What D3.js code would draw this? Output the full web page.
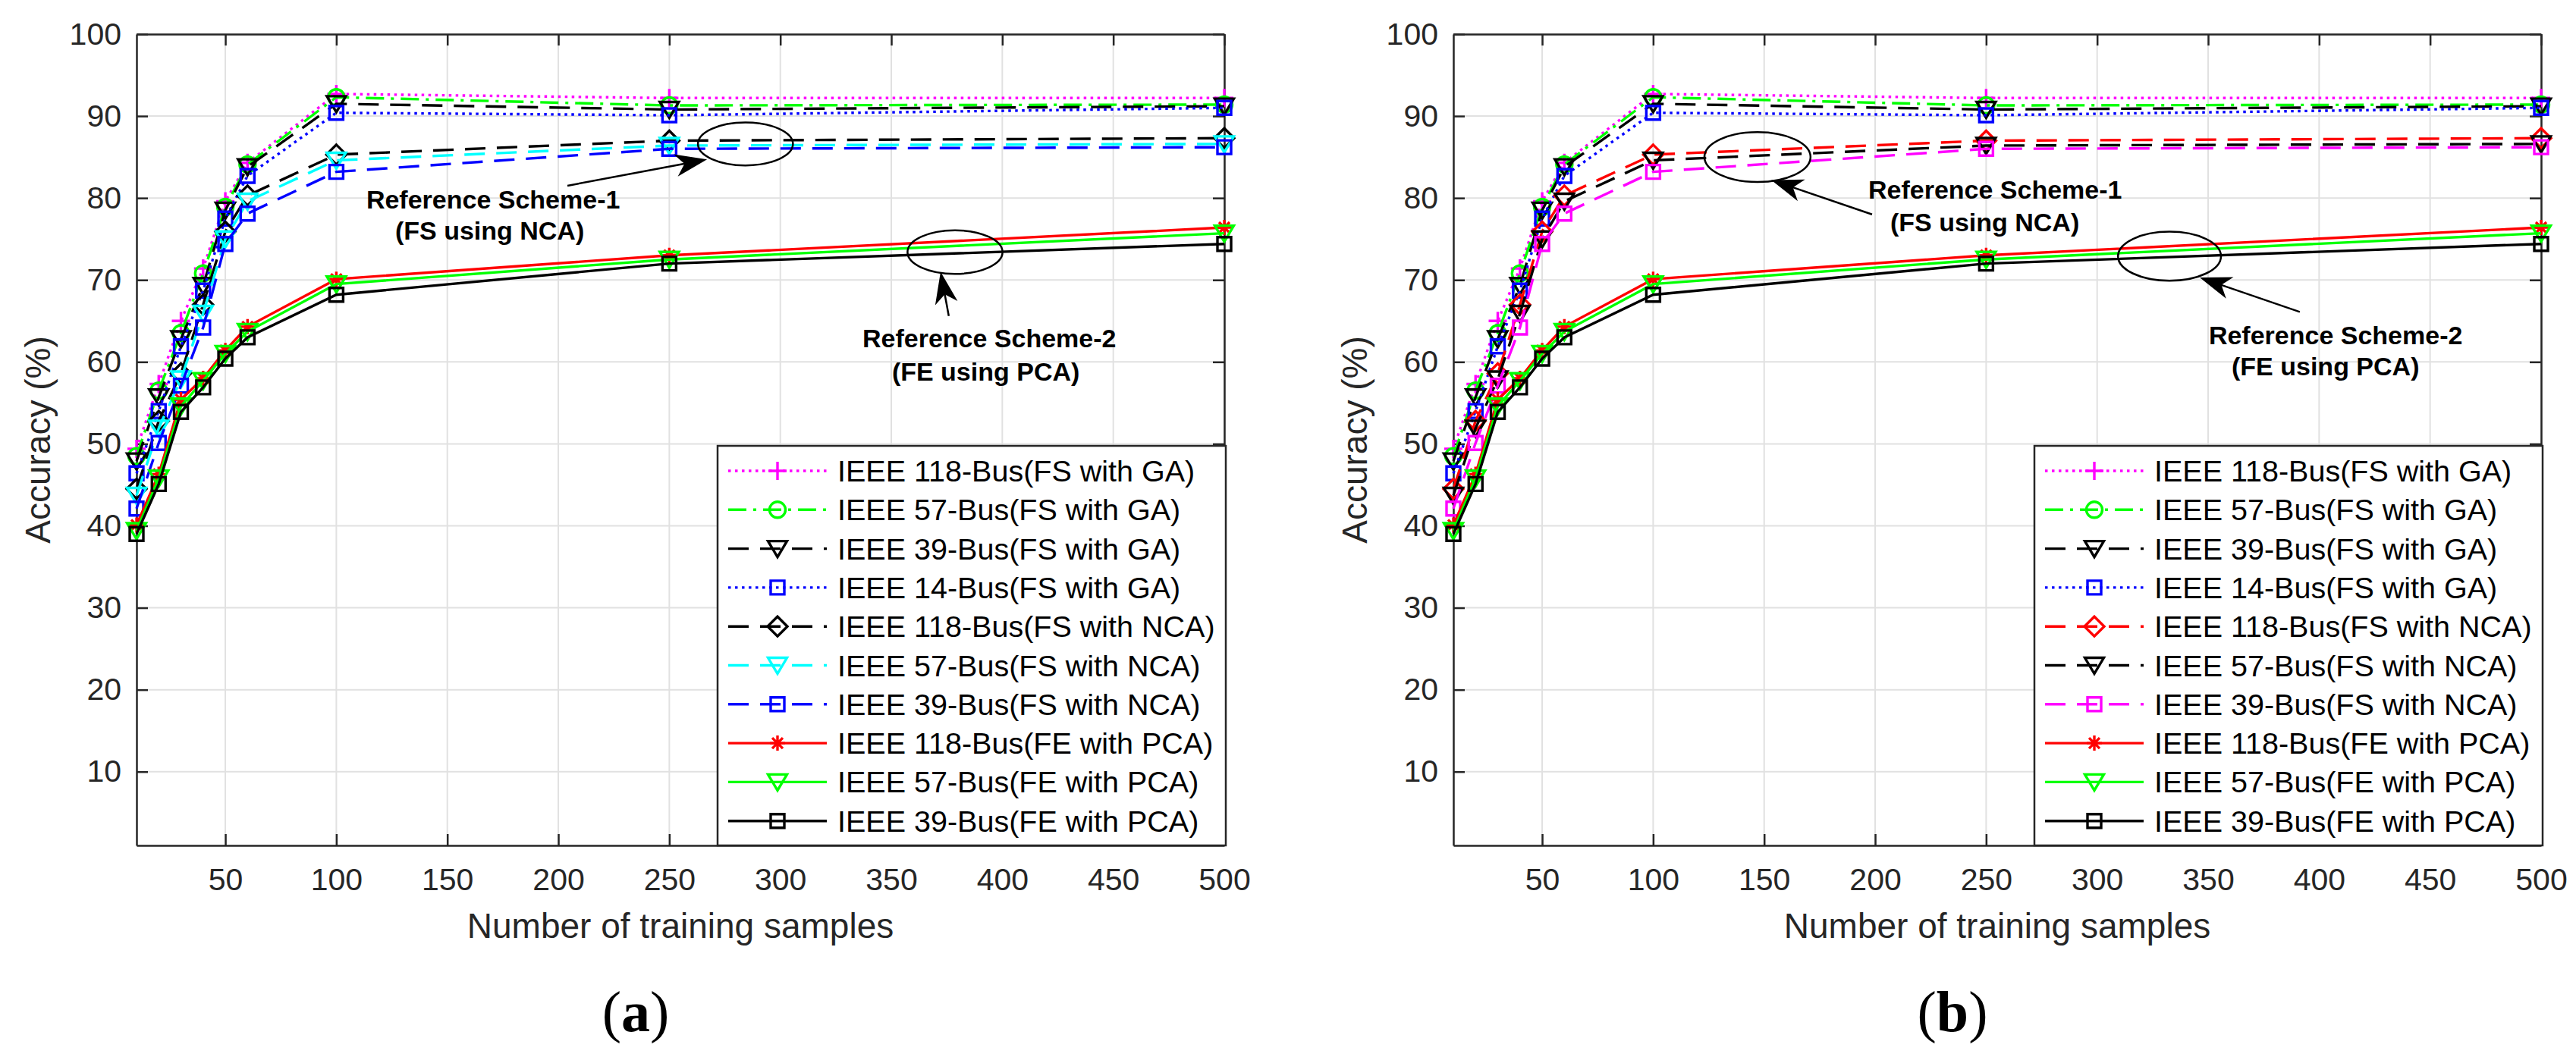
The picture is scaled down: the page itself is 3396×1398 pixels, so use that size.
<!DOCTYPE html>
<html>
<head>
<meta charset="utf-8">
<script src="https://cdn.jsdelivr.net/npm/d3@7"></script>
<style>
  body { margin: 0; background: #fff; }
  svg { display: block; }
</style>
</head>
<body>
<svg width="3396" height="1398"></svg>
<script>
/* global d3 */

// Values (accuracy %, one entry per training-sample count)
const samples = [10, 20, 30, 40, 50, 60, 100, 250, 500];
const ga118 = [49.4, 57.3, 65.0, 71.4, 79.6, 84.3, 92.7, 92.2, 92.2];
const ga57 = [48.5, 56.5, 63.5, 70.8, 78.9, 84.1, 92.3, 91.3, 91.4];
const ga39 = [47.9, 55.7, 62.8, 69.3, 78.5, 83.8, 91.5, 90.8, 91.2];
const ga14 = [46.4, 54.0, 61.9, 68.7, 77.5, 82.7, 90.4, 90.1, 91.0];
const nca118 = [44.5, 52.8, 58.6, 67.0, 75.9, 80.3, 85.3, 87.0, 87.3];
const nca57 = [43.7, 51.9, 57.9, 65.9, 75.0, 79.6, 84.6, 86.4, 86.6];
const nca39 = [42.1, 50.1, 57.1, 64.2, 74.4, 78.1, 83.2, 86.0, 86.2];
const pca118 = [40.1, 46.3, 55.4, 58.0, 61.4, 64.3, 70.1, 73.0, 76.4];
const pca57 = [39.4, 45.8, 54.6, 57.7, 61.0, 63.7, 69.5, 72.5, 75.7];
const pca39 = [39.0, 45.1, 53.9, 56.9, 60.4, 63.0, 68.2, 72.0, 74.4];

const seriesLabels = [
  'IEEE 118-Bus(FS with GA)', 'IEEE 57-Bus(FS with GA)', 'IEEE 39-Bus(FS with GA)',
  'IEEE 14-Bus(FS with GA)', 'IEEE 118-Bus(FS with NCA)', 'IEEE 57-Bus(FS with NCA)',
  'IEEE 39-Bus(FS with NCA)', 'IEEE 118-Bus(FE with PCA)', 'IEEE 57-Bus(FE with PCA)',
  'IEEE 39-Bus(FE with PCA)',
];
const seriesValues = [ga118, ga57, ga39, ga14, nca118, nca57, nca39, pca118, pca57, pca39];

const xTicks = [50, 100, 150, 200, 250, 300, 350, 400, 450, 500];
const yTicks = [10, 20, 30, 40, 50, 60, 70, 80, 90, 100];
const panelLetters = ['a', 'b'];
const schemeLines = [['Reference Scheme-1', '(FS using NCA)'], ['Reference Scheme-2', '(FE using PCA)']];

// Line styles
const DOT = '3.5,5.5';
const DASH = '27,15';
const DASHDOT = '24,9,4,9';
const SOLID = null;

const stylesA = [
  { color: '#ff00ff', dash: DOT, marker: 'plus' },
  { color: '#00ff00', dash: DASHDOT, marker: 'circle' },
  { color: '#000000', dash: DASH, marker: 'tri' },
  { color: '#0000ff', dash: DOT, marker: 'square' },
  { color: '#000000', dash: DASH, marker: 'diamond' },
  { color: '#00ffff', dash: DASH, marker: 'tri' },
  { color: '#0000ff', dash: DASH, marker: 'square' },
  { color: '#ff0000', dash: SOLID, marker: 'star' },
  { color: '#00ff00', dash: SOLID, marker: 'tri' },
  { color: '#000000', dash: SOLID, marker: 'square' },
];
const stylesB = stylesA.map((s) => ({ ...s }));
stylesB[4] = { color: '#ff0000', dash: DASH, marker: 'diamond' };
stylesB[5] = { color: '#000000', dash: DASH, marker: 'tri' };
stylesB[6] = { color: '#ff00ff', dash: DASH, marker: 'square' };

// Annotation placement in data units (x samples, y accuracy) for each panel
const notesA = {
  ellipses: [[284.3, 86.6, 21.4, 2.62], [378.7, 73.4, 21.4, 2.66]],
  arrows: [[204.1, 81.5, 267.0, 84.7], [375.9, 65.6, 372.2, 71.0]],
  texts: [[[113.5, 78.7], [126.5, 74.9]], [[337.0, 61.8], [350.3, 57.7]]],
};
const notesB = {
  ellipses: [[147.0, 85.0, 23.9, 3.05], [332.6, 72.9, 23.2, 2.99]],
  arrows: [[198.6, 78.0, 153.2, 82.2], [391.3, 66.1, 346.2, 70.3]],
  texts: [[[196.9, 79.9], [206.8, 75.9]], [[350.3, 62.2], [360.6, 58.35]]],
};

// Layout
const svg = d3.select('svg');
const font = "'Liberation Sans', Arial, Helvetica, sans-serif";
const axisColor = '#262626';
const lineW = 3.4;
const plotLeft = 180;
const plotRight = 1614;
const plotTop = 45;
const plotBottom = 1115;
const panelShift = [0, 1736];

svg.append('rect').attr('width', 3396).attr('height', 1398).attr('fill', '#fff');

function markerPath(type) {
  switch (type) {
    case 'plus': return 'M-12,0H12M0,-12V12';
    case 'tri': return 'M-12.5,-10L12.5,-10L0,11Z';
    case 'square': return 'M-9,-9H9V9H-9Z';
    case 'diamond': return 'M0,-13L13,0L0,13L-13,0Z';
    case 'star': return 'M-10,0H10M0,-10V10M-7,-7L7,7M-7,7L7,-7';
    default: return null;
  }
}

function drawMarker(g, type, cx, cy, color) {
  if (type === 'circle') {
    g.append('circle')
      .attr('cx', cx).attr('cy', cy).attr('r', 10.5)
      .attr('fill', 'none').attr('stroke', color).attr('stroke-width', lineW);
  } else {
    g.append('path')
      .attr('d', markerPath(type))
      .attr('transform', `translate(${cx},${cy})`)
      .attr('fill', 'none').attr('stroke', color).attr('stroke-width', lineW)
      .attr('stroke-linejoin', 'miter');
  }
}

function drawPanel(p) {
  const shift = panelShift[p];
  const styles = p === 0 ? stylesA : stylesB;
  const notes = p === 0 ? notesA : notesB;
  const g = svg.append('g').attr('transform', `translate(${shift},0)`);

  const x = d3.scaleLinear().domain([10, 500]).range([plotLeft, plotRight]);
  const y = d3.scaleLinear().domain([1, 100]).range([plotBottom, plotTop]);

  // grid
  const grid = g.append('g').attr('stroke', '#e1e1e1').attr('stroke-width', 2);
  xTicks.forEach((t) => {
    grid.append('line').attr('x1', x(t)).attr('x2', x(t)).attr('y1', plotTop).attr('y2', plotBottom);
  });
  yTicks.forEach((t) => {
    grid.append('line').attr('x1', plotLeft).attr('x2', plotRight).attr('y1', y(t)).attr('y2', y(t));
  });

  // axes (box with inward ticks)
  const styleAxis = (sel) => {
    sel.select('.domain').attr('stroke', axisColor).attr('stroke-width', 2.5);
    sel.selectAll('.tick line').attr('stroke', axisColor).attr('stroke-width', 2.5);
    sel.selectAll('.tick text').attr('fill', axisColor).style('font-family', font).style('font-size', '41px');
  };
  g.append('g').attr('transform', `translate(0,${plotBottom})`)
    .call(d3.axisBottom(x).tickValues(xTicks).tickSizeInner(-15).tickSizeOuter(0).tickPadding(30))
    .call(styleAxis);
  g.append('g').attr('transform', `translate(${plotLeft},0)`)
    .call(d3.axisLeft(y).tickValues(yTicks).tickSizeInner(-15).tickSizeOuter(0).tickPadding(20))
    .call(styleAxis);
  g.append('g').attr('transform', `translate(0,${plotTop})`)
    .call(d3.axisTop(x).tickValues(xTicks).tickSizeInner(-15).tickSizeOuter(0).tickFormat(''))
    .call(styleAxis);
  g.append('g').attr('transform', `translate(${plotRight},0)`)
    .call(d3.axisRight(y).tickValues(yTicks).tickSizeInner(-15).tickSizeOuter(0).tickFormat(''))
    .call(styleAxis);

  // series
  const line = d3.line().x((d) => x(d[0])).y((d) => y(d[1]));
  seriesValues.forEach((vals, i) => {
    const st = styles[i];
    const pts = samples.map((s, k) => [s, vals[k]]);
    const sg = g.append('g');
    sg.append('path')
      .attr('d', line(pts))
      .attr('fill', 'none')
      .attr('stroke', st.color)
      .attr('stroke-width', lineW)
      .attr('stroke-dasharray', st.dash);
    pts.forEach((d) => drawMarker(sg, st.marker, x(d[0]), y(d[1]), st.color));
  });

  // annotations
  const ann = g.append('g');
  notes.ellipses.forEach((e) => {
    ann.append('ellipse')
      .attr('cx', x(e[0])).attr('cy', y(e[1]))
      .attr('rx', x(e[0] + e[2]) - x(e[0])).attr('ry', y(e[1] - e[3]) - y(e[1]))
      .attr('fill', 'none').attr('stroke', '#000').attr('stroke-width', 2.5);
  });
  notes.arrows.forEach((a) => {
    const x1 = x(a[0]); const y1 = y(a[1]);
    const x2 = x(a[2]); const y2 = y(a[3]);
    const len = Math.hypot(x2 - x1, y2 - y1);
    const ux = (x2 - x1) / len; const uy = (y2 - y1) / len;
    const nx = -uy; const ny = ux;
    const L = 42; const W = 15;
    ann.append('line')
      .attr('x1', x1).attr('y1', y1)
      .attr('x2', x2 - ux * L * 0.7).attr('y2', y2 - uy * L * 0.7)
      .attr('stroke', '#000').attr('stroke-width', 2.5);
    const head = [
      [x2, y2],
      [x2 - ux * L + nx * W, y2 - uy * L + ny * W],
      [x2 - ux * L * 0.72, y2 - uy * L * 0.72],
      [x2 - ux * L - nx * W, y2 - uy * L - ny * W],
    ];
    ann.append('path').attr('d', `M${head.map((q) => q.join(',')).join('L')}Z`).attr('fill', '#000');
  });
  notes.texts.forEach((pair, k) => {
    pair.forEach((pos, j) => {
      ann.append('text')
        .attr('x', x(pos[0])).attr('y', y(pos[1]))
        .style('font-family', font).style('font-size', '34px').style('font-weight', 'bold')
        .attr('fill', '#000')
        .text(schemeLines[k][j]);
    });
  });

  // legend
  const lgW = 670; const lgH = 527;
  const lg = g.append('g').attr('transform', `translate(${plotRight + 2 - lgW},${plotBottom - lgH})`);
  lg.append('rect').attr('width', lgW).attr('height', lgH)
    .attr('fill', '#fff').attr('stroke', axisColor).attr('stroke-width', 2.5);
  seriesLabels.forEach((label, i) => {
    const st = styles[i];
    const cy = 33 + i * 51.3;
    lg.append('line').attr('x1', 14).attr('x2', 144).attr('y1', cy).attr('y2', cy)
      .attr('stroke', st.color).attr('stroke-width', lineW).attr('stroke-dasharray', st.dash);
    drawMarker(lg, st.marker, 79, cy, st.color);
    lg.append('text').attr('x', 158).attr('y', cy + 14)
      .style('font-family', font).style('font-size', '39.5px').attr('fill', '#000')
      .text(label);
  });

  // axis titles
  g.append('text')
    .attr('x', (plotLeft + plotRight) / 2).attr('y', 1237)
    .attr('text-anchor', 'middle').attr('fill', axisColor)
    .style('font-family', font).style('font-size', '46px')
    .text('Number of training samples');
  g.append('text')
    .attr('transform', `translate(66,${(plotTop + plotBottom) / 2}) rotate(-90)`)
    .attr('text-anchor', 'middle').attr('fill', axisColor)
    .style('font-family', font).style('font-size', '46px')
    .text('Accuracy (%)');

  // panel letter
  const lt = g.append('text')
    .attr('x', 838).attr('y', 1360).attr('text-anchor', 'middle')
    .style('font-family', "'Liberation Serif', 'Times New Roman', serif").style('font-size', '76px')
    .attr('fill', '#000');
  lt.append('tspan').text('(');
  lt.append('tspan').style('font-weight', 'bold').text(panelLetters[p]);
  lt.append('tspan').text(')');
}

drawPanel(0);
drawPanel(1);
</script>
</body>
</html>
